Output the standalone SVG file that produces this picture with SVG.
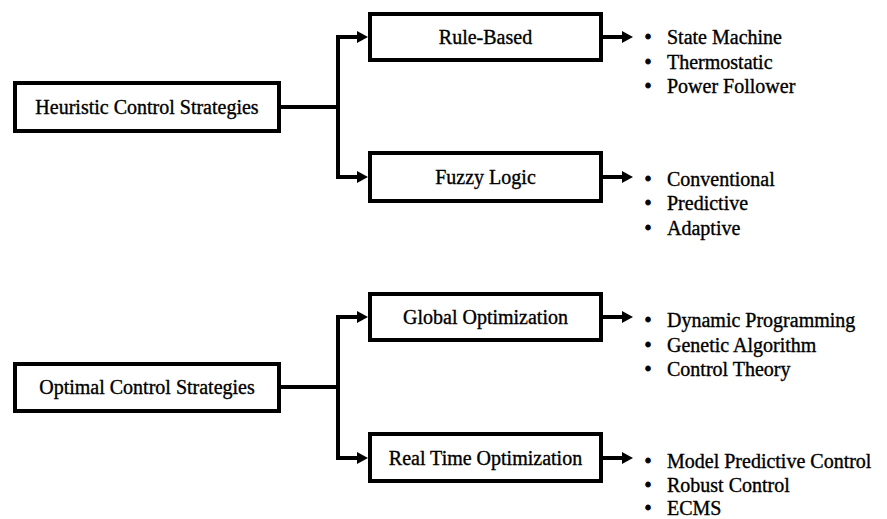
<svg xmlns="http://www.w3.org/2000/svg" width="887" height="519" viewBox="0 0 887 519">
  <style>
    .box { fill: #ffffff; stroke: #000000; stroke-width: 4; }
    .lbl { font-family: "Liberation Serif", "Times New Roman", serif; font-size: 20px; fill: #000000; stroke: #000000; stroke-width: 0.35; }
    .mid { text-anchor: middle; }
    .dot { font-family: "Liberation Serif", "Times New Roman", serif; font-size: 20px; fill: #000000; stroke: #000000; stroke-width: 0.8; text-anchor: middle; }
    .wire { fill: none; stroke: #000000; stroke-width: 4; stroke-linejoin: miter; }
    .arr { marker-end: url(#head); }
  </style>
  <defs>
    <marker id="head" markerUnits="userSpaceOnUse" markerWidth="11" markerHeight="12" refX="0" refY="6" orient="auto">
      <path d="M0,0 L11,6 L0,12 z" fill="#000000"/>
    </marker>
  </defs>

  <!-- connectors -->
  <g id="connectors">
    <path class="wire" d="M281,107 H340"/>
    <path class="wire arr" d="M338,107 V37 H357"/>
    <path class="wire arr" d="M338,107 V177 H357"/>
    <path class="wire" d="M281,387 H340"/>
    <path class="wire arr" d="M338,387 V317 H357"/>
    <path class="wire arr" d="M338,387 V458 H357"/>
    <path class="wire arr" d="M603,37 H622"/>
    <path class="wire arr" d="M603,177 H622"/>
    <path class="wire arr" d="M603,317 H622"/>
    <path class="wire arr" d="M603,458 H622"/>
  </g>

  <!-- heuristic branch -->
  <g id="heuristic">
    <rect class="box" x="15" y="83" width="264" height="48"/>
    <text class="lbl mid" x="147" y="114">Heuristic Control Strategies</text>
  </g>
  <g id="rule-based">
    <rect class="box" x="370" y="14" width="231" height="46"/>
    <text class="lbl mid" x="485.5" y="44">Rule-Based</text>
  </g>
  <g id="fuzzy-logic">
    <rect class="box" x="370" y="153" width="231" height="48"/>
    <text class="lbl mid" x="485.5" y="184">Fuzzy Logic</text>
  </g>
  <g id="rule-based-list">
    <text class="dot" x="648" y="44">•</text><text class="lbl" x="667" y="44">State Machine</text>
    <text class="dot" x="648" y="69">•</text><text class="lbl" x="667" y="69">Thermostatic</text>
    <text class="dot" x="648" y="93">•</text><text class="lbl" x="667" y="93">Power Follower</text>
  </g>
  <g id="fuzzy-logic-list">
    <text class="dot" x="648" y="186">•</text><text class="lbl" x="667" y="186">Conventional</text>
    <text class="dot" x="648" y="210">•</text><text class="lbl" x="667" y="210">Predictive</text>
    <text class="dot" x="648" y="235">•</text><text class="lbl" x="667" y="235">Adaptive</text>
  </g>

  <!-- optimal branch -->
  <g id="optimal">
    <rect class="box" x="15" y="364" width="264" height="47"/>
    <text class="lbl mid" x="147" y="394">Optimal Control Strategies</text>
  </g>
  <g id="global-optimization">
    <rect class="box" x="370" y="294" width="231" height="46"/>
    <text class="lbl mid" x="485.5" y="324">Global Optimization</text>
  </g>
  <g id="real-time-optimization">
    <rect class="box" x="370" y="434" width="231" height="47"/>
    <text class="lbl mid" x="485.5" y="465">Real Time Optimization</text>
  </g>
  <g id="global-optimization-list">
    <text class="dot" x="648" y="327">•</text><text class="lbl" x="667" y="327">Dynamic Programming</text>
    <text class="dot" x="648" y="352">•</text><text class="lbl" x="667" y="352">Genetic Algorithm</text>
    <text class="dot" x="648" y="376">•</text><text class="lbl" x="667" y="376">Control Theory</text>
  </g>
  <g id="real-time-optimization-list">
    <text class="dot" x="648" y="468">•</text><text class="lbl" x="667" y="468">Model Predictive Control</text>
    <text class="dot" x="648" y="492">•</text><text class="lbl" x="667" y="492">Robust Control</text>
    <text class="dot" x="648" y="515">•</text><text class="lbl" x="667" y="515">ECMS</text>
  </g>
</svg>
